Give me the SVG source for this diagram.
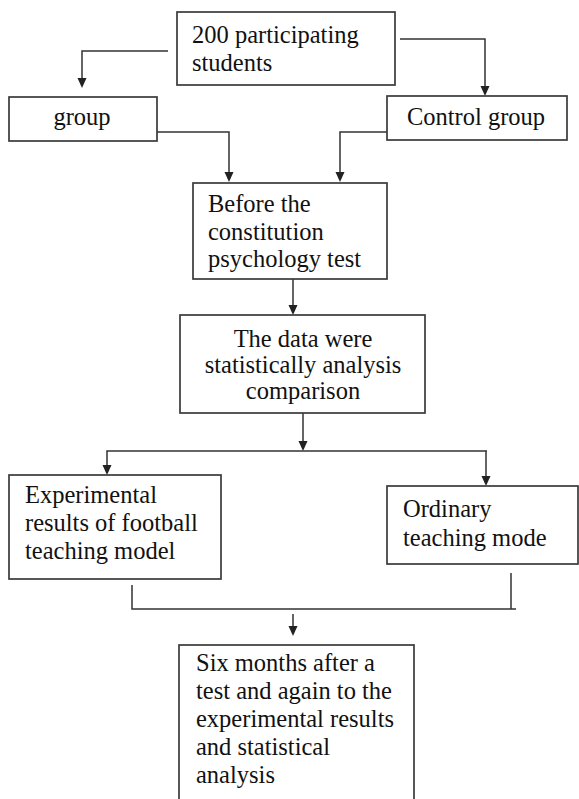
<svg xmlns="http://www.w3.org/2000/svg" width="579" height="799" viewBox="0 0 579 799">
  <defs>
    <style>
      .box { fill: #ffffff; stroke: #3a3a3a; stroke-width: 1.7; }
      .lbl { font-family: "Liberation Serif", "DejaVu Serif", serif; font-size: 24.5px; fill: #111; }
      .mid { text-anchor: middle; }
      .wire { fill: none; stroke: #333; stroke-width: 1.5; }
      .head { fill: #222; }
    </style>
  </defs>
  <rect width="579" height="799" fill="#ffffff"/>

  <!-- connectors: elbow lines with small filled arrowheads -->
  <g id="connectors">
    <path class="wire" d="M168,51 H82 V79"/>
    <path class="head" d="M77.5,78 L86.5,78 L82,88 Z"/>
    <path class="wire" d="M400,39 H485 V87"/>
    <path class="head" d="M480.5,86 L489.5,86 L485,96 Z"/>
    <path class="wire" d="M157,132 H229 V173"/>
    <path class="head" d="M224.5,172 L233.5,172 L229,182 Z"/>
    <path class="wire" d="M387,132 H340 V173"/>
    <path class="head" d="M335.5,172 L344.5,172 L340,182 Z"/>
    <path class="wire" d="M293,279 V306"/>
    <path class="head" d="M288.5,305 L297.5,305 L293,315 Z"/>
    <path class="wire" d="M303,413 V442"/>
    <path class="head" d="M298.5,441 L307.5,441 L303,451 Z"/>
    <path class="wire" d="M107,466 V451 H487 M486,451 V477"/>
    <path class="head" d="M102.5,465 L111.5,465 L107,475 Z"/>
    <path class="head" d="M481.5,476 L490.5,476 L486,486 Z"/>
    <path class="wire" d="M132,585 V609 H516 M511,573 V609"/>
    <path class="wire" d="M293,614 V627"/>
    <path class="head" d="M288.5,626 L297.5,626 L293,636 Z"/>
  </g>

  <g id="node-participants">
    <rect class="box" x="177" y="12" width="218" height="73"/>
    <text class="lbl" x="192" y="43">200 participating</text>
    <text class="lbl" x="192" y="71">students</text>
  </g>

  <g id="node-group">
    <rect class="box" x="9" y="97" width="148" height="44"/>
    <text class="lbl mid" x="82" y="125">group</text>
  </g>

  <g id="node-control">
    <rect class="box" x="387" y="96" width="180" height="44"/>
    <text class="lbl mid" x="476" y="125">Control group</text>
  </g>

  <g id="node-pretest">
    <rect class="box" x="193" y="183" width="194" height="96"/>
    <text class="lbl" x="208" y="212">Before the</text>
    <text class="lbl" x="208" y="240">constitution</text>
    <text class="lbl" x="208" y="267">psychology test</text>
  </g>

  <g id="node-analysis">
    <rect class="box" x="180" y="315" width="245" height="98"/>
    <text class="lbl mid" x="303" y="347">The data were</text>
    <text class="lbl mid" x="303" y="373">statistically analysis</text>
    <text class="lbl mid" x="303" y="399">comparison</text>
  </g>

  <g id="node-experimental">
    <rect class="box" x="9" y="475" width="212" height="104"/>
    <text class="lbl" x="25" y="503">Experimental</text>
    <text class="lbl" x="25" y="531">results of football</text>
    <text class="lbl" x="25" y="559">teaching model</text>
  </g>

  <g id="node-ordinary">
    <rect class="box" x="387" y="486" width="191" height="78"/>
    <text class="lbl" x="403" y="517">Ordinary</text>
    <text class="lbl" x="403" y="546">teaching mode</text>
  </g>

  <g id="node-retest">
    <rect class="box" x="179" y="645" width="235" height="170"/>
    <text class="lbl" x="196" y="671">Six months after a</text>
    <text class="lbl" x="196" y="699">test and again to the</text>
    <text class="lbl" x="196" y="727">experimental results</text>
    <text class="lbl" x="196" y="755">and statistical</text>
    <text class="lbl" x="196" y="783">analysis</text>
  </g>
</svg>
